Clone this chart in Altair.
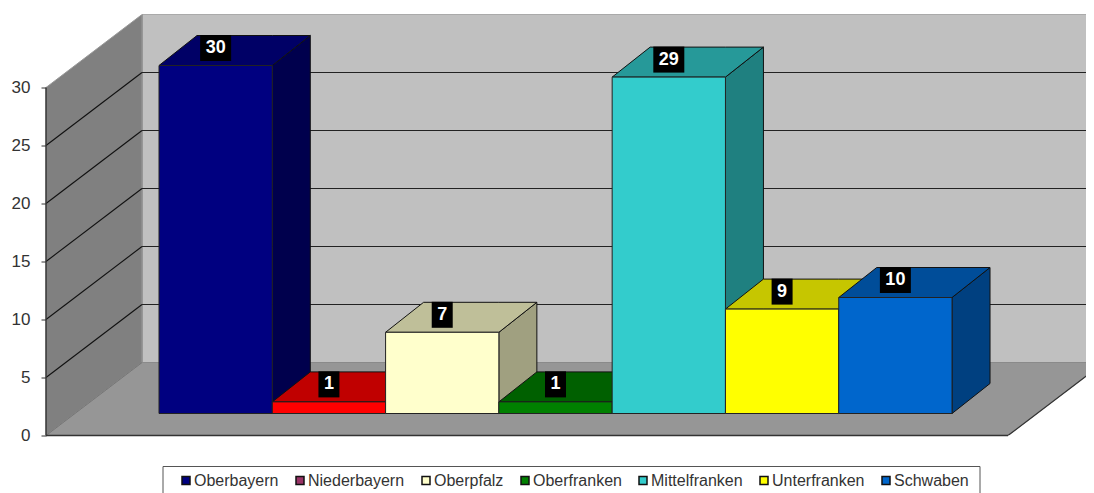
import altair as alt
import pandas as pd

# ---- chart values
categories = ["Oberbayern", "Niederbayern", "Oberpfalz", "Oberfranken",
              "Mittelfranken", "Unterfranken", "Schwaben"]
values = [30, 1, 7, 1, 29, 9, 10]
ticks = [0, 5, 10, 15, 20, 25, 30]
legend_colors = ["#000080", "#993366", "#ffffcc", "#008000", "#33cccc", "#ffff00", "#0066cc"]
front_colors = ["#000080", "#ff0000", "#ffffcc", "#008000", "#33cccc", "#ffff00", "#0066cc"]
top_colors = ["#000066", "#c00000", "#bfbf99", "#006000", "#269999", "#c6c600", "#004d99"]
side_colors = ["#00004d", "#800000", "#a0a080", "#004000", "#1f8080", "#808000", "#004080"]

# ---- layout of the fake 3D projection (scale units: 1 = one category, y = value units)
PX_X = 113.29
PX_Y = 11.6
X_MIN, X_MAX = (46 - 159) / PX_X, (1086 - 159) / PX_X
Y_MAX = 421 / PX_Y
W_DX, W_DY = 96 / PX_X, 73 / PX_Y      # depth of the floor / side wall
B_DX, B_DY = 38 / PX_X, 30 / PX_Y      # depth of a bar
BASE = 22 / PX_Y                       # bars stand this far above the front edge
LBL_UP = 17.5 / PX_Y
LBL_H = 13 / PX_Y
FLOOR_W = (1008 - 46) / PX_X
BOX_X0, BOX_X1 = (163 - 159) / PX_X, (980 - 159) / PX_X
BOX_Y0, BOX_Y1 = -(466 - 435) / PX_Y, -(500 - 435) / PX_Y

x_s = alt.Scale(domain=[X_MIN, X_MAX], nice=False, zero=False)
y_s = alt.Scale(domain=[0, Y_MAX], nice=False, zero=False)
X = alt.X("x:Q", scale=x_s, axis=None)
Y = alt.Y("y:Q", scale=y_s, title=None,
          axis=alt.Axis(values=ticks, grid=False, tickColor="#333333", tickSize=5, tickWidth=1,
                        domain=False, labelFont="Liberation Sans",
                        labelFontSize=17, labelColor="#333333", labelPadding=11))

fronts, tops, sides, tags = [], [], [], []
for i, (c, v) in enumerate(zip(categories, values)):
    b, t = BASE, BASE + v
    x0, x1 = i, i + 1
    fronts.append(dict(x=x0, x2=x1, y=b, y2=t, fill=front_colors[i]))
    for px, up, lo in [(x0, t, t), (x0 + B_DX, t + B_DY, t), (x1, t + B_DY, t), (x1 + B_DX, t + B_DY, t + B_DY)]:
        tops.append(dict(i=i, x=px, y=up, y2=lo, fill=top_colors[i]))
    for px, up, lo in [(x1, t, b), (x1 + B_DX, t + B_DY, b + B_DY)]:
        sides.append(dict(i=i, x=px, y=up, y2=lo, fill=side_colors[i]))
    half = (31 if v >= 10 else 21) / 2 / PX_X
    cy = t + LBL_UP
    tags.append(dict(x=i + 0.5, xa=i + 0.5 - half, xb=i + 0.5 + half,
                     y=cy, ya=cy - LBL_H, yb=cy + LBL_H, label=str(v)))

wall_left = pd.DataFrame([dict(x=X_MIN, y=30, y2=0), dict(x=X_MIN + W_DX, y=30 + W_DY, y2=W_DY)])
floor = pd.DataFrame([dict(x=X_MIN, y=0, y2=0), dict(x=X_MIN + W_DX, y=W_DY, y2=0),
                      dict(x=X_MIN + FLOOR_W, y=W_DY, y2=0),
                      dict(x=X_MIN + FLOOR_W + W_DX, y=W_DY, y2=W_DY)])
back = pd.DataFrame([dict(x=X_MIN + W_DX, x2=X_MAX + 1, y=W_DY, y2=30 + W_DY)])
inner = [t for t in ticks if 0 < t < 30]
grid_left = pd.DataFrame([dict(x=X_MIN, x2=X_MIN + W_DX, y=t, y2=t + W_DY) for t in inner])
grid_back = pd.DataFrame([dict(x=X_MIN + W_DX, x2=X_MAX, y=t + W_DY) for t in inner])
floor_edge = pd.DataFrame([dict(x=X_MIN, x2=X_MIN + FLOOR_W, y=0)])
floor_diag = pd.DataFrame([dict(x=X_MIN + FLOOR_W, x2=X_MIN + FLOOR_W + W_DX, y=0, y2=W_DY)])
corner = pd.DataFrame([dict(x=X_MIN, x2=X_MIN + W_DX, y=0, y2=W_DY)])
axis_line = pd.DataFrame([dict(x=X_MIN, y=0, y2=30)])
legend_box = pd.DataFrame([dict(x=BOX_X0, x2=BOX_X1, y=BOX_Y0, y2=BOX_Y1)])
legend_df = pd.DataFrame(dict(cat=categories, x=[0.0] * 7, y=[0.0] * 7))

layers = [
    alt.Chart(back).mark_rect(fill="#c0c0c0", stroke="#666666", strokeWidth=1, clip=True).encode(
        x=X, x2="x2:Q", y=Y, y2="y2:Q"),
    alt.Chart(wall_left).mark_area(fill="#808080", stroke="#999999", strokeWidth=1, clip=True).encode(
        x=X, y=Y, y2="y2:Q"),
    alt.Chart(floor).mark_area(fill="#969696", stroke="#8a8a8a", strokeWidth=1, clip=True).encode(
        x=X, y=Y, y2="y2:Q"),
    alt.Chart(corner).mark_rule(color="#777777", strokeWidth=1).encode(x=X, x2="x2:Q", y=Y, y2="y2:Q"),
    alt.Chart(grid_left).mark_rule(color="#111111", strokeWidth=1.1).encode(x=X, x2="x2:Q", y=Y, y2="y2:Q"),
    alt.Chart(grid_back).mark_rule(color="#222222", strokeWidth=1.1, clip=True).encode(x=X, x2="x2:Q", y=Y),
    alt.Chart(floor_edge).mark_rule(color="#333333", strokeWidth=1.5).encode(x=X, x2="x2:Q", y=Y),
    alt.Chart(floor_diag).mark_rule(color="#333333", strokeWidth=1.2, clip=True).encode(
        x=X, x2="x2:Q", y=Y, y2="y2:Q"),
    alt.Chart(axis_line).mark_rule(color="#333333", strokeWidth=1.5).encode(x=X, y=Y, y2="y2:Q"),
    alt.Chart(pd.DataFrame(sides)).mark_area(stroke="#111111", strokeWidth=1).encode(
        x=X, y=Y, y2="y2:Q", detail="i:N", fill=alt.Fill("fill:N", scale=None)),
    alt.Chart(pd.DataFrame(tops)).mark_area(stroke="#111111", strokeWidth=1).encode(
        x=X, y=Y, y2="y2:Q", detail="i:N", fill=alt.Fill("fill:N", scale=None)),
    alt.Chart(pd.DataFrame(fronts)).mark_rect(stroke="#222222", strokeWidth=1).encode(
        x=X, x2="x2:Q", y=Y, y2="y2:Q", fill=alt.Fill("fill:N", scale=None)),
    alt.Chart(pd.DataFrame(tags)).mark_rect(fill="#000000").encode(
        x=alt.X("xa:Q", scale=x_s, axis=None), x2="xb:Q",
        y=alt.Y("ya:Q", scale=y_s, title=None), y2="yb:Q"),
    alt.Chart(pd.DataFrame(tags)).mark_text(font="Liberation Sans", fontWeight="bold", fontSize=18,
                                            color="white", baseline="middle", align="center").encode(
        x=X, y=Y, text="label:N"),
    alt.Chart(legend_box).mark_rect(fill="white", stroke="#555555", strokeWidth=1).encode(
        x=X, x2="x2:Q", y=Y, y2="y2:Q"),
    alt.Chart(legend_df).mark_square(opacity=0, size=1).encode(
        x=X, y=Y,
        color=alt.Color("cat:N", scale=alt.Scale(domain=categories, range=legend_colors),
                        legend=alt.Legend(
                            title=None, orient="none", legendX=132, legendY=458,
                            direction="horizontal", columns=7, gridAlign="none",
                            symbolType="square", symbolSize=64, symbolOpacity=1,
                            symbolStrokeColor="#111111", symbolStrokeWidth=1.5,
                            labelFont="Liberation Sans", labelFontSize=16, labelColor="#333333",
                            labelOffset=0, columnPadding=13, padding=0,
                            labelLimit=200))),
]

chart = alt.layer(*layers).properties(
    width=1040, height=421,
    autosize=alt.AutoSizeParams(type="none"),
    padding=dict(left=38, top=6.5, right=0, bottom=57.5),
    background="white",
).configure_view(strokeWidth=0)

chart.save("out.html", embed_options={"renderer": "svg", "actions": False})
